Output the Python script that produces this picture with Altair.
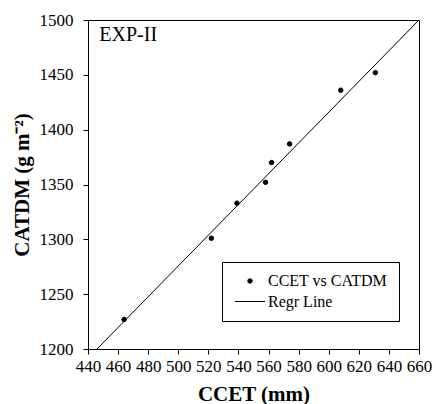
import altair as alt
import pandas as pd

# Data
ccet = [464, 522, 539, 558, 562, 574, 608, 631]
catdm = [1227, 1301, 1333, 1352, 1370, 1387, 1436, 1452]
line_x = [446, 660]
line_y = [1200, 1500]
series_names = ["CCET vs CATDM", "Regr Line"]
x_ticks = [440, 460, 480, 500, 520, 540, 560, 580, 600, 620, 640, 660]
y_ticks = [1200, 1250, 1300, 1350, 1400, 1450, 1500]
label_text = ["EXP-II"]
label_x = [447.5]
label_y = [1486]

FONT = "Liberation Serif"

pts = pd.DataFrame({"x": ccet, "y": catdm, "series": series_names[0]})
reg = pd.DataFrame({"x": line_x, "y": line_y})
ann = pd.DataFrame({"x": label_x, "y": label_y, "t": label_text})

xscale = alt.Scale(domain=[440, 660], nice=False, zero=False)
yscale = alt.Scale(domain=[1200, 1500], nice=False, zero=False)

xax = alt.Axis(values=x_ticks, title="CCET (mm)", grid=False, format="d",
               labelOverlap=False, labelFlush=False)
yax = alt.Axis(values=y_ticks, title="CATDM (g m⁻²)", grid=False, format="d",
               labelOverlap=False, labelFlush=False)

legend = alt.Legend(
    title=None,
    orient="none",
    legendX=134,
    legendY=242,
    strokeColor="black",
    fillColor="white",
    padding=11,
    rowPadding=4.5,
    symbolOffset=9,
    symbolSize=20,
    labelFont=FONT,
    labelFontSize=16,
    labelColor="black",
    labelOffset=10,
    symbolFillColor="black",
    symbolStrokeColor="black",
    symbolStrokeWidth=1,
    cornerRadius=0,
)

points = alt.Chart(pts).mark_point(
    filled=True, color="black", strokeWidth=1, opacity=1
).encode(
    x=alt.X("x:Q", scale=xscale, axis=xax),
    y=alt.Y("y:Q", scale=yscale, axis=yax),
    shape=alt.Shape(
        "series:N",
        scale=alt.Scale(domain=series_names, range=["circle", "M-6.7,0H6.7"]),
        legend=legend,
    ),
    stroke=alt.Stroke(
        "series:N",
        scale=alt.Scale(domain=series_names, range=["black", "black"]),
        legend=legend,
    ),
    size=alt.value(20),
)

line = alt.Chart(reg).mark_line(color="black", strokeWidth=1, clip=True).encode(
    x=alt.X("x:Q", scale=xscale, axis=xax),
    y=alt.Y("y:Q", scale=yscale, axis=yax),
)

text = alt.Chart(ann).mark_text(
    align="left", baseline="middle", font=FONT, fontSize=20, color="black"
).encode(
    x=alt.X("x:Q", scale=xscale, axis=xax),
    y=alt.Y("y:Q", scale=yscale, axis=yax),
    text="t:N",
)

chart = (
    alt.layer(line, points, text)
    .properties(
        width=331,
        height=329,
        autosize=alt.AutoSizeParams(type="none"),
        padding={"left": 88, "top": 20, "right": 17, "bottom": 55},
        background="white",
    )
    .configure_view(stroke="black", strokeWidth=1)
    .configure_axis(
        domainColor="black",
        tickColor="black",
        tickSize=5,
        labelOverlap=False,
        labelFlush=False,
        labelFont=FONT,
        labelFontSize=17,
        labelColor="black",
        titleFont=FONT,
        titleFontSize=21,
        titleFontWeight="bold",
        titleColor="black",
    )
    .configure_axisX(labelPadding=4, titlePadding=9)
    .configure_axisY(labelPadding=10, titlePadding=7)
)

chart.save("out.html", embed_options={"renderer": "svg", "actions": False})
